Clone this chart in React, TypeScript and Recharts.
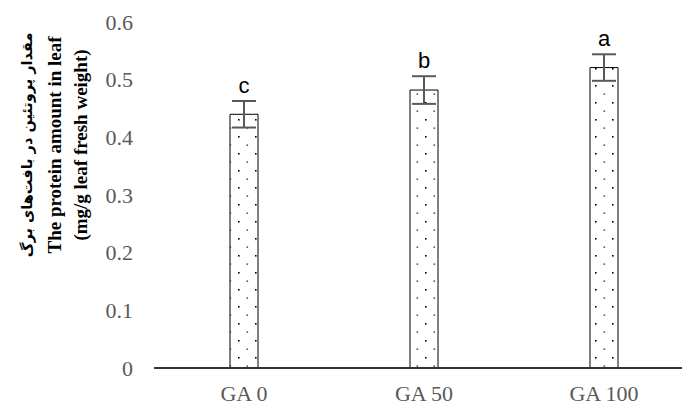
import React from 'react'
import { Bar, BarChart, ErrorBar, Label, LabelList, XAxis, YAxis } from 'recharts'

const categories = ['GA 0', 'GA 50', 'GA 100']
const protein = [0.44, 0.482, 0.521]
const errors = [0.023, 0.024, 0.023]
const letters = ['c', 'b', 'a']
const yTicks = [0, 0.1, 0.2, 0.3, 0.4, 0.5, 0.6]

const data = categories.map((name, i) => ({ name, value: protein[i], err: errors[i] }))

const serif = '"Liberation Serif", "Times New Roman", serif'
const tickStyle = { fontFamily: serif, fontSize: 22, fill: '#595959' }

function AxisTitle() {
  // three rotated lines, Persian on the outside
  const cy = 145
  const lines = [
    { x: 27, text: 'مقدار پروتئین در بافت\u200cهای برگ', family: '"DejaVu Sans", sans-serif', size: 14.5 },
    { x: 54, text: 'The protein amount in leaf', family: serif, size: 19 },
    { x: 80, text: '(mg/g leaf fresh weight)', family: serif, size: 19 },
  ]
  return (
    <g>
      {lines.map((l) => (
        <text
          key={l.x}
          x={l.x}
          y={cy}
          transform={`rotate(-90, ${l.x}, ${cy})`}
          textAnchor="middle"
          dominantBaseline="central"
          fontFamily={l.family}
          fontSize={l.size}
          fontWeight="bold"
          fill="#000"
        >
          {l.text}
        </text>
      ))}
    </g>
  )
}

function SigLetter(props: any) {
  const { x, y, width, height, index, value } = props
  const errPx = (errors[index] * height) / value
  return (
    <text
      x={x + width / 2}
      y={y - errPx - 16}
      textAnchor="middle"
      dominantBaseline="central"
      fontFamily='"Liberation Sans", Arial, sans-serif'
      fontSize={22}
      fill="#000"
    >
      {letters[index]}
    </text>
  )
}

export default function App() {
  return (
    <div style={{ position: 'absolute', left: 0, top: 0, width: 682, height: 406, overflow: 'hidden', background: '#fff' }}>
      <BarChart width={700} height={406} data={data} margin={{ top: 22, right: 6, left: 100, bottom: 0 }}>
        <defs>
          <pattern id="dots" patternUnits="userSpaceOnUse" width="17" height="17">
            <rect width="17" height="17" fill="#fff" />
            <rect x="0" y="0" width="1.6" height="1.6" fill="#000" />
            <rect x="8.5" y="8.5" width="1.6" height="1.2" fill="#222" />
          </pattern>
        </defs>
        <XAxis
          dataKey="name"
          height={38}
          tick={tickStyle}
          tickLine={false}
          tickSize={0}
          tickMargin={17}
          axisLine={{ stroke: '#333', strokeWidth: 2 }}
        />
        <YAxis
          width={54}
          domain={[0, 0.6]}
          ticks={yTicks}
          tickFormatter={(v) => (v === 0 ? '0' : v.toFixed(1))}
          tick={tickStyle}
          tickLine={false}
          tickSize={0}
          tickMargin={21}
          axisLine={false}
        >
          <Label content={() => <AxisTitle />} />
        </YAxis>
        <Bar dataKey="value" barSize={28} fill="url(#dots)" stroke="#000" strokeWidth={1} isAnimationActive={false}>
          <ErrorBar dataKey="err" width={12} stroke="#595959" strokeWidth={2} isAnimationActive={false} />
          <LabelList dataKey="value" content={SigLetter} />
        </Bar>
      </BarChart>
    </div>
  )
}
